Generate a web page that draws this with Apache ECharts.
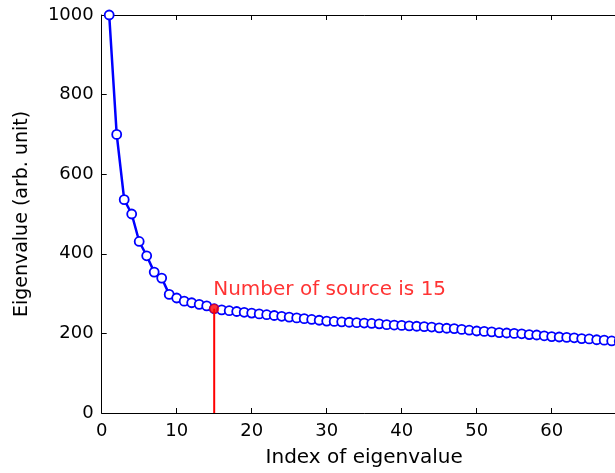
<!DOCTYPE html>
<html><head><meta charset="utf-8">
<script src="https://cdn.jsdelivr.net/npm/echarts@6/dist/echarts.min.js"></script>
<style>html,body{margin:0;padding:0;background:#fff;overflow:hidden}#c{width:660px;height:473px}</style>
</head><body><div id="c"></div>
<script>
const indices = [];
for (let i = 1; i <= 70; i++) indices.push(i);
const eigenvalues = [1000,700,536,500,431,395,354,339,298,289,
281,277,273,269,262,259,257,255,253,251,
249,247,245,243,241,239,237,235,233,231,
230,229,228,227,226,225,224,222,221,220,
219,218,217,216,214,213,212,210,208,206,
205,204,202,201,200,199,197,196,194,192,
191,190,189,187,186,184,183,181,180,178];
const sourceIndex = 15;
const sourceValue = 262;
const sourceText = 'Number of source is 15';
const xTicks = [0,10,20,30,40,50,60,70];
const yTicks = [0,200,400,600,800,1000];

const font = 'DejaVu Sans, sans-serif';
const chart = echarts.init(document.getElementById('c'));
const axisCommon = {
  axisLine: {show: true, onZero: false, lineStyle: {color: '#000', width: 1}},
  axisTick: {show: true, inside: true, length: 5, lineStyle: {color: '#000'}},
  splitLine: {show: false}
};
chart.setOption({
  animation: false,
  grid: {left: 101.7, top: 15, width: 525, height: 401, containLabel: false},
  xAxis: [
    Object.assign({type: 'value', min: 0, max: 70, interval: 10, position: 'bottom',
      name: 'Index of eigenvalue', nameLocation: 'middle', nameGap: 35,
      nameTextStyle: {fontFamily: font, fontSize: 20, color: '#000'},
      axisLabel: {fontFamily: font, fontSize: 18, color: '#000', margin: 9,
        formatter: v => xTicks.includes(v) ? String(v) : ''}}, axisCommon),
    Object.assign({type: 'value', min: 0, max: 70, interval: 10, position: 'top',
      axisLabel: {show: false}}, axisCommon)
  ],
  yAxis: Object.assign({type: 'value', min: 0, max: 1000, interval: 200,
    name: 'Eigenvalue (arb. unit)', nameLocation: 'middle', nameGap: 70, nameRotate: 90,
    nameTextStyle: {fontFamily: font, fontSize: 19, color: '#000'},
    axisLabel: {fontFamily: font, fontSize: 18, color: '#000', margin: 8,
      formatter: v => yTicks.includes(v) ? String(v) : ''}}, axisCommon),
  series: [
    {type: 'line', data: indices.map((x, i) => [x, eigenvalues[i]]),
     symbol: 'circle', symbolSize: 9, showAllSymbol: true,
     lineStyle: {color: '#0000ff', width: 2.5},
     itemStyle: {color: '#ffffff', borderColor: '#0000ff', borderWidth: 1.8},
     z: 2},
    {type: 'line', data: [[sourceIndex, 0], [sourceIndex, sourceValue]],
     symbol: 'none', lineStyle: {color: '#ff0000', width: 2}, z: 3},
    {type: 'scatter', data: [[sourceIndex, sourceValue]], symbolSize: 10,
     itemStyle: {color: '#ff0000'}, z: 4,
     label: {show: true, formatter: sourceText, position: [4, -24],
       align: 'left', verticalAlign: 'top',
       fontFamily: font, fontSize: 20, color: '#ff0000'}}
  ]
});
</script></body></html>
